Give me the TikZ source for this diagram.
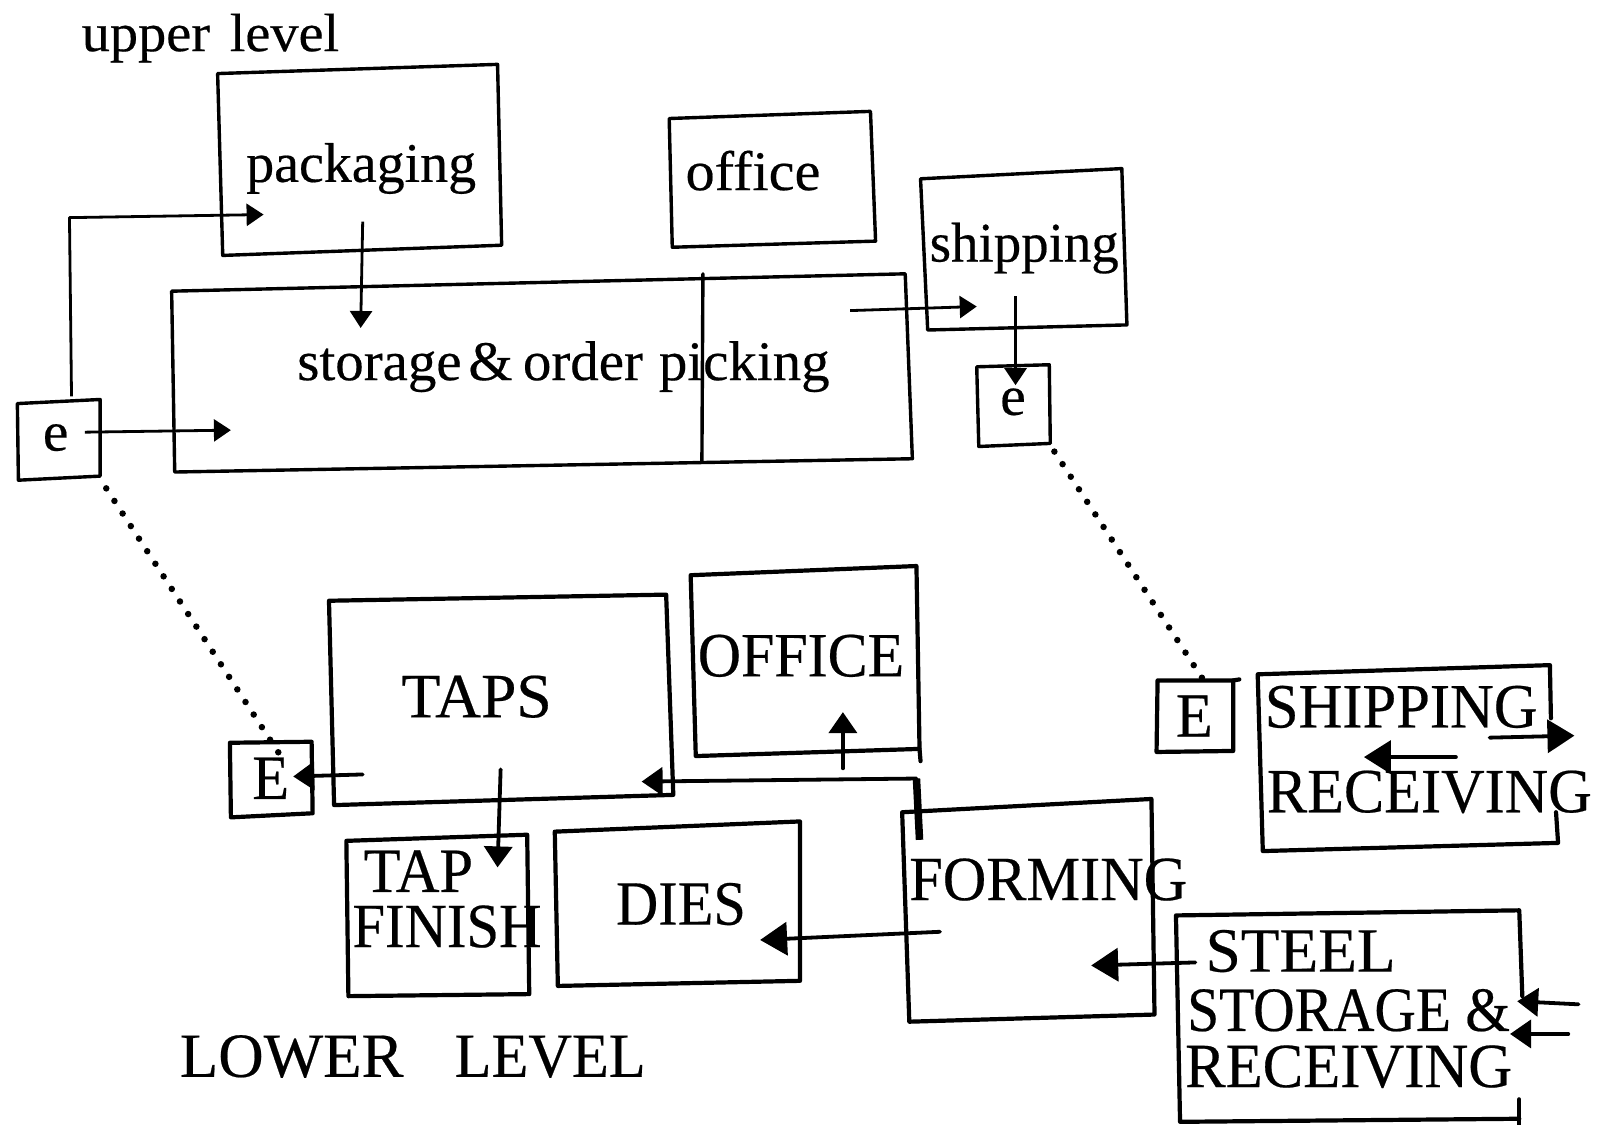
\documentclass[tikz,border=0pt]{standalone}
\usepackage{fontspec}
\setmainfont[FakeBold=0.35]{Liberation Serif}
\usetikzlibrary{arrows.meta}
\newsavebox{\labbox}
% \lab{name}{x}{baseline y}{width}{font size}{text}: left-aligned label stretched to width
\newcommand{\lab}[6]{%
  \node[lbl] (#1) at (#2,#3) {\fontsize{#5}{#5}\selectfont
    \sbox{\labbox}{#6}%
    \pgfmathsetmacro{\labr}{#4*1.0217/\the\wd\labbox}%
    \scalebox{\labr}[1]{\usebox{\labbox}}};}
% \roombox{name}{a}{b}{c}{d}: hand-drawn closed box
\newcommand{\roombox}[6][boxline]{%
  \coordinate (#2-a) at (#3); \coordinate (#2-b) at (#4);
  \coordinate (#2-c) at (#5); \coordinate (#2-d) at (#6);
  \draw[#1] (#2-a) -- (#2-b) -- (#2-c) -- (#2-d) -- cycle;}
\tikzset{
  x=1.0217pt, y=-1.0217pt,
  lbl/.style={anchor=base west, inner sep=0pt, outer sep=0pt},
  boxline/.style={line width=4.2pt, line join=round, line cap=round},
  thinbox/.style={line width=3.4pt, line join=round, line cap=round},
  small arrow/.style={line width=2.8pt, -{Triangle[length=17pt,width=22pt]}},
  big arrow/.style={line width=3.8pt, line cap=round, -{Triangle[length=27pt,width=33pt]}},
  mid arrow/.style={line width=3.8pt, line cap=round, -{Triangle[length=21pt,width=28pt]}},
  dotline/.style={line width=6.5pt, line cap=round, dash pattern=on 0pt off 15pt},
}
\begin{document}
\begin{tikzpicture}
\useasboundingbox (0,0) rectangle (1568,1101);
\fill[white] (0,0) rectangle (1568,1101);

% upper level boxes
\roombox[thinbox]{packbox}{213,72}{487,63}{491,240}{218,250}
\roombox[thinbox]{offbox}{655,116}{852,109}{857,236}{658,242}
\roombox[thinbox]{shipbox}{901,175}{1098,165}{1103,318}{908,323}
\roombox[thinbox]{storebox}{168,285}{886,268}{893,449}{171,462}
\roombox[thinbox]{eleft}{17,395}{98,391}{98,466}{18,470}
\roombox[thinbox]{eright}{956,359}{1027,357}{1028,434}{958,437}
\coordinate (div-t) at (688,268); \coordinate (div-b) at (687,451);
\draw[thinbox] (div-t) -- (div-b);

% lower level boxes
\roombox{tapsbox}{322,588}{652,582}{659,778}{327,788}
\roombox{officebox}{676,563}{897,554}{900,733}{681,740}
\coordinate (officeext) at (901,745);
\draw[boxline] (officebox-c) -- (officeext);
\roombox{elow}{225,727}{305,726}{306,796}{226,800}
\roombox{tfbox}{339,823}{516,817}{518,973}{341,975}
\roombox{diesbox}{543,814}{783,804}{783,960}{546,965}
\roombox{formbox}{883,795}{1127,782}{1130,993}{890,1000}
\roombox{ebox}{1133,666}{1207,666}{1207,735}{1132,736}
\coordinate (etick) at (1213,665); \draw[boxline] (ebox-b) -- (etick);

% open boxes
\coordinate (sr-a) at (1518,703); \coordinate (sr-b) at (1517,651);
\coordinate (sr-c) at (1231,660); \coordinate (sr-d) at (1236,833);
\coordinate (sr-e) at (1525,825); \coordinate (sr-f) at (1523,795);
\draw[boxline] (sr-a) -- (sr-b) -- (sr-c) -- (sr-d) -- (sr-e) -- (sr-f);
\coordinate (st-a) at (1490,975); \coordinate (st-b) at (1487,891);
\coordinate (st-c) at (1151,896); \coordinate (st-d) at (1155,1098);
\coordinate (st-e) at (1487,1095); \coordinate (st-f) at (1487,1076);
\coordinate (st-g) at (1487,1101);
\draw[boxline] (st-a) -- (st-b) -- (st-c) -- (st-d) -- (st-e);
\draw[boxline] (st-g) -- (st-f);

% labels
\lab{upper}{80}{50}{252}{54pt}{upper\hspace{0.35em}level}
\lab{packaging}{241}{178}{225}{56pt}{packaging}
\lab{office}{671}{186}{132}{56pt}{office}
\lab{shipping}{910}{256}{185}{56pt}{shipping}
\lab{storage}{291}{372}{521}{56pt}{storage\hspace{0.12em}\&\hspace{0.18em}order\hspace{0.28em}picking}
\lab{e1}{42}{441}{25}{56pt}{e}
\lab{e2}{979}{406}{25}{56pt}{e}
\lab{taps}{393}{702}{147}{63pt}{TAPS}
\lab{officeU}{683}{662}{202}{63pt}{OFFICE}
\lab{E1}{247}{782}{36}{63pt}{E}
\lab{E2}{1151}{721}{36}{63pt}{E}
\lab{tap}{356}{873}{107}{63pt}{TAP}
\lab{finish}{345}{927}{185}{63pt}{FINISH}
\lab{dies}{603}{905}{127}{63pt}{DIES}
\lab{forming}{890}{881}{272}{63pt}{FORMING}
\lab{shipU}{1238}{712}{267}{63pt}{SHIPPING}
\lab{recv}{1240}{795}{318}{63pt}{RECEIVING}
\lab{steel}{1180}{951}{186}{63pt}{STEEL}
\lab{stor}{1162}{1009}{316}{63pt}{STORAGE \&}
\lab{recv2}{1160}{1064}{320}{63pt}{RECEIVING}
\lab{lower}{176}{1054}{219}{63pt}{LOWER}
\lab{level}{445}{1054}{187}{63pt}{LEVEL}

% upper arrows
\coordinate (a1s) at (70,388); \coordinate (a1m) at (68,213); \coordinate (a1e) at (258,210);
\draw[small arrow, line join=round] (a1s) -- (a1m) -- (a1e);
\coordinate (a2s) at (355,217); \coordinate (a2e) at (353,321);
\draw[small arrow] (a2s) -- (a2e);
\coordinate (a3s) at (83,423); \coordinate (a3e) at (226,421);
\draw[small arrow] (a3s) -- (a3e);
\coordinate (a4s) at (832,304); \coordinate (a4e) at (956,300);
\draw[small arrow] (a4s) -- (a4e);
\coordinate (a5s) at (994,290); \coordinate (a5e) at (994,377);
\draw[small arrow] (a5s) -- (a5e);

% dotted links between levels
\coordinate (d1s) at (104,478); \coordinate (d1e) at (280,748);
\draw[dotline] (d1s) -- (d1e);
\coordinate (d2s) at (1032,442); \coordinate (d2e) at (1184,675);
\draw[dotline] (d2s) -- (d2e);

% lower arrows
\coordinate (b1s) at (355,758); \coordinate (b1e) at (287,760);
\draw[mid arrow] (b1s) -- (b1e);
\coordinate (b2s) at (900,822); \coordinate (b2m) at (897,762); \coordinate (b2e) at (628,765);
\draw[line width=7.5pt] (b2s) -- (b2m);
\draw[mid arrow, line join=round] (b2m) -- (b2e);
\coordinate (b3s) at (825,752); \coordinate (b3e) at (825,697);
\draw[mid arrow] (b3s) -- (b3e);
\coordinate (b4s) at (490,753); \coordinate (b4e) at (487,849);
\draw[mid arrow] (b4s) -- (b4e);
\coordinate (b5s) at (920,912); \coordinate (b5e) at (744,920);
\draw[big arrow] (b5s) -- (b5e);
\coordinate (b6s) at (1170,942); \coordinate (b6e) at (1068,945);
\draw[big arrow] (b6s) -- (b6e);
\coordinate (b7s) at (1458,722); \coordinate (b7e) at (1541,720);
\draw[big arrow] (b7s) -- (b7e);
\coordinate (b8s) at (1425,741); \coordinate (b8e) at (1335,741);
\draw[big arrow] (b8s) -- (b8e);
\coordinate (b9s) at (1545,983); \coordinate (b9e) at (1485,980);
\draw[mid arrow] (b9s) -- (b9e);
\coordinate (b10s) at (1535,1012); \coordinate (b10e) at (1478,1012);
\draw[mid arrow] (b10s) -- (b10e);
\end{tikzpicture}
\end{document}
